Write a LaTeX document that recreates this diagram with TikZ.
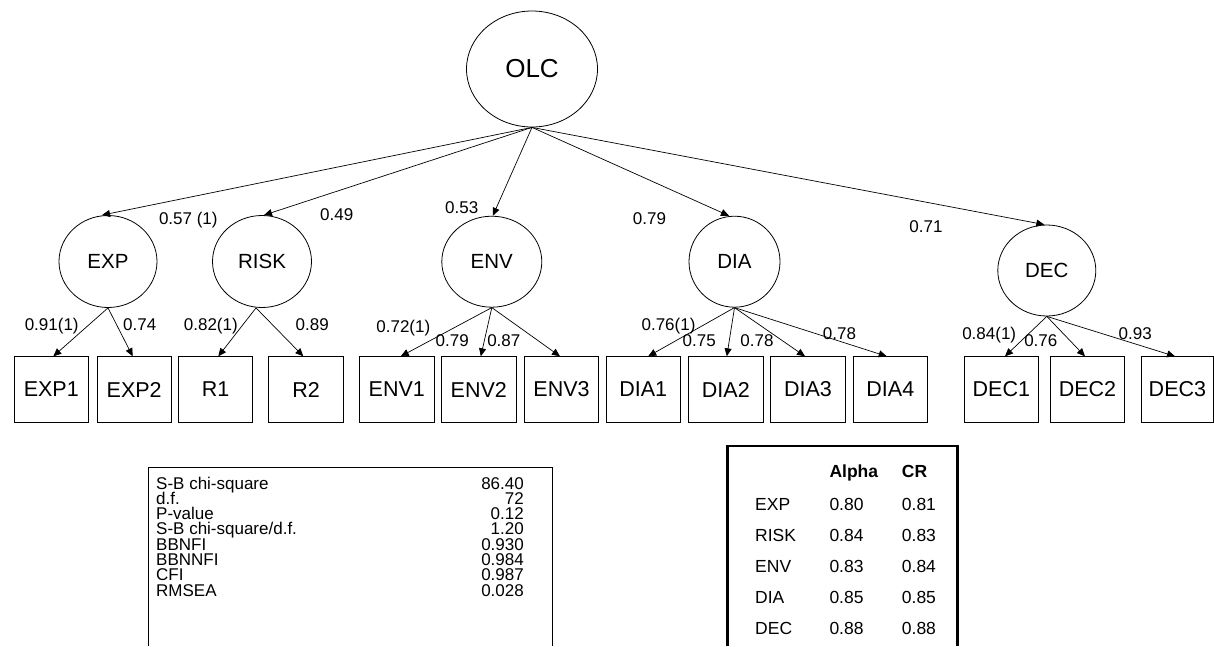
\documentclass[tikz,border=0pt]{standalone}
\usepackage{fontspec}
\setmainfont{Liberation Sans}
\usetikzlibrary{arrows.meta,shapes.geometric}
\begin{document}
\begin{tikzpicture}[x=1pt,y=-1pt,
  lat/.style={ellipse,draw,line width=0.8pt,inner sep=0pt,font=\fontsize{20.5}{24}\selectfont},
  obs/.style={rectangle,draw,line width=0.8pt,inner sep=0pt,minimum width=74.3pt,minimum height=65.6pt,font=\fontsize{21.5}{26}\selectfont},
  arr/.style={line width=0.7pt,-{Triangle[length=8pt,width=7pt]}},
  lbl/.style={anchor=base,inner sep=0pt,font=\fontsize{17}{20}\selectfont},
  tab/.style={inner sep=0pt,font=\fontsize{17.5}{20}\selectfont},
  fit/.style={inner sep=0pt,text height=11pt,text depth=3pt,font=\fontsize{17}{18}\selectfont},
  frame/.style={line width=0.8pt},
  thickframe/.style={line width=2.5pt}]
\useasboundingbox (0,0) rectangle (1214,646);

% latent variables
\node[lat,minimum width=131pt,minimum height=116pt,font=\fontsize{26}{30}\selectfont] (olc) at (532,69) {OLC};
\node[lat,minimum width=98pt,minimum height=92pt] (exp) at (108,261.5) {EXP};
\node[lat,minimum width=99pt,minimum height=92pt] (risk) at (262,261.5) {RISK};
\node[lat,minimum width=100pt,minimum height=91pt] (env) at (491.8,261.7) {ENV};
\node[lat,minimum width=91pt,minimum height=91pt] (dia) at (734.5,261.7) {DIA};
\node[lat,minimum width=98pt,minimum height=91pt] (dec) at (1046.8,270.5) {DEC};

% observed variables
\node[obs] (e1) at (51.3,389.5) {EXP1};
\node[obs] (e2) at (134.2,389.5) {EXP2};
\node[obs] (r1) at (215.7,389.5) {R1};
\node[obs] (r2) at (306,389.5) {R2};
\node[obs] (n1) at (396.8,389.5) {ENV1};
\node[obs] (n2) at (478.8,389.5) {ENV2};
\node[obs] (n3) at (561.5,389.5) {ENV3};
\node[obs] (d1) at (643.2,389.5) {DIA1};
\node[obs] (d2) at (725.8,389.5) {DIA2};
\node[obs] (d3) at (808,389.5) {DIA3};
\node[obs] (d4) at (890.3,389.5) {DIA4};
\node[obs] (c1) at (1001.3,389.5) {DEC1};
\node[obs] (c2) at (1087.5,389.5) {DEC2};
\node[obs,minimum width=71.5pt] (c3) at (1177.4,389.5) {DEC3};

% second-order loadings
\draw[arr] (olc.south) -- ([xshift=-6pt]exp.north);
\draw[arr] (olc.south) -- ([xshift=2pt]risk.north);
\draw[arr] (olc.south) -- ([xshift=1pt]env.north);
\draw[arr] (olc.south) -- ([xshift=-5.5pt]dia.north);
\draw[arr] (olc.south) -- ([xshift=-2.5pt]dec.north);

% first-order loadings
\draw[arr] (exp.south) -- ([xshift=2pt]e1.north);
\draw[arr] (exp.south) -- ([xshift=-1.5pt]e2.north);
\draw[arr] ([xshift=-6pt]risk.south) -- ([xshift=2.6pt]r1.north);
\draw[arr] ([xshift=-6pt]risk.south) -- ([xshift=-2.7pt]r2.north);
\draw[arr] (env.south) -- ([xshift=4pt]n1.north);
\draw[arr] (env.south) -- ([xshift=2pt]n2.north);
\draw[arr] (env.south) -- ([xshift=-1.5pt]n3.north);
\draw[arr] (dia.south) -- ([xshift=5pt]d1.north);
\draw[arr] (dia.south) -- ([xshift=1pt]d2.north);
\draw[arr] (dia.south) -- ([xshift=-3pt]d3.north);
\draw[arr] (dia.south) -- ([xshift=-3.6pt]d4.north);
\draw[arr] (dec.south) -- ([xshift=3.7pt]c1.north);
\draw[arr] (dec.south) -- ([xshift=-2.5pt]c2.north);
\draw[arr] (dec.south) -- ([xshift=-2.4pt]c3.north);

% labels
\node[lbl] (l1) at (188.3,224) {0.57 (1)};
\node[lbl] (l2) at (336.7,220.3) {0.49};
\node[lbl] (l3) at (461.7,213) {0.53};
\node[lbl] (l4) at (649.5,224) {0.79};
\node[lbl] (l5) at (926,232.3) {0.71};
\node[lbl] (m1) at (51.7,330) {0.91(1)};
\node[lbl] (m2) at (139.7,330) {0.74};
\node[lbl] (m3) at (210.8,330) {0.82(1)};
\node[lbl] (m4) at (312.2,330) {0.89};
\node[lbl] (m5) at (403.3,332.3) {0.72(1)};
\node[lbl] (m6) at (452.2,346.3) {0.79};
\node[lbl] (m7) at (503.8,346.3) {0.87};
\node[lbl] (m8) at (668.5,330) {0.76(1)};
\node[lbl] (m9) at (699.2,346.3) {0.75};
\node[lbl] (m10) at (757,346.3) {0.78};
\node[lbl] (m11) at (839.5,339) {0.78};
\node[lbl] (m12) at (989.2,339) {0.84(1)};
\node[lbl] (m13) at (1040.8,346.3) {0.76};
\node[lbl] (m14) at (1135.2,339) {0.93};

% fit table
\draw[frame] (148.3,646) -- (148.3,467.3) -- (552.7,467.3) -- (552.7,646);
\foreach \n/\a [count=\i from 0] in {S-B chi-square/86.40, d.f./72, P-value/0.12, S-B chi-square\slash d.f./1.20, BBNFI/0.930, BBNNFI/0.984, CFI/0.987, RMSEA/0.028}{
  \node[fit,anchor=base west] (fn\i) at (156,489+15.3*\i) {\n};
  \node[fit,anchor=base east] (fv\i) at (524,489+15.3*\i) {\a};
}

% reliability table
\draw[thickframe] (727.3,646) -- (727.3,446) -- (957.3,446) -- (957.3,646);
\node[tab,anchor=base west,font=\fontsize{17.5}{20}\selectfont\bfseries] (ha) at (829.3,477) {Alpha};
\node[tab,anchor=base west,font=\fontsize{17.5}{20}\selectfont\bfseries] (hc) at (901.7,477) {CR};
\foreach \n/\a/\c [count=\i from 0] in {EXP/0.80/0.81, RISK/0.84/0.83, ENV/0.83/0.84, DIA/0.85/0.85, DEC/0.88/0.88}{
  \node[tab,anchor=base west] (rn\i) at (755,510+31.2*\i) {\n};
  \node[tab,anchor=base west] (ra\i) at (829.3,510+31.2*\i) {\a};
  \node[tab,anchor=base west] (rc\i) at (901.7,510+31.2*\i) {\c};
}
\end{tikzpicture}
\end{document}
